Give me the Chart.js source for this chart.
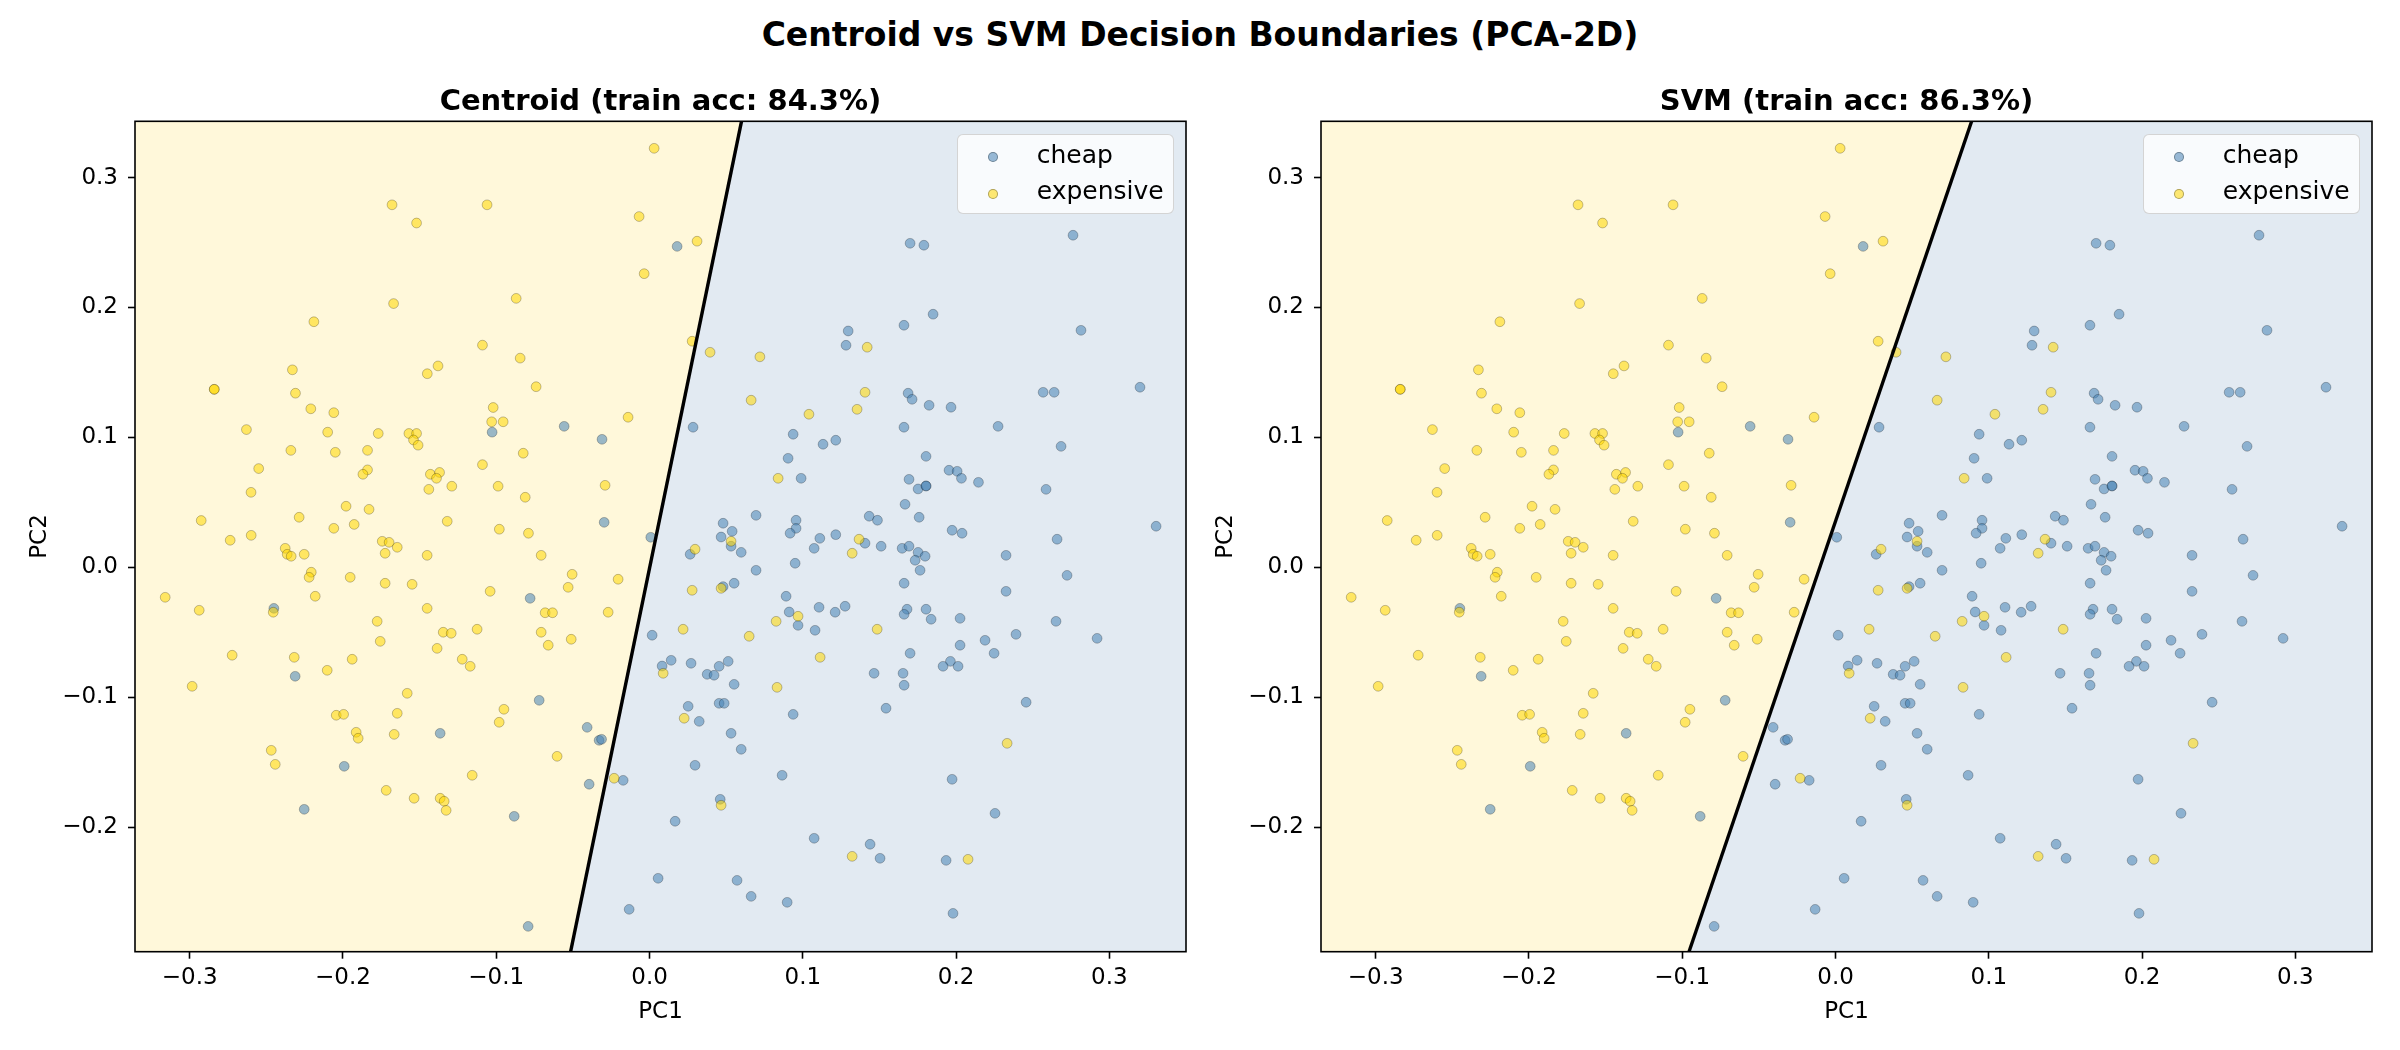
<!DOCTYPE html>
<html><head><meta charset="utf-8">
<script src="https://cdn.jsdelivr.net/npm/chart.js@4/dist/chart.umd.min.js"></script>
<style>
html,body{margin:0;padding:0;background:#fff;}
body{width:2400px;height:1050px;position:relative;overflow:hidden;font-family:'DejaVu Sans',sans-serif;color:#000;}
#sup{position:absolute;left:0;top:15px;width:2400px;text-align:center;font-weight:bold;font-size:33px;line-height:40px;}
canvas{position:absolute;top:0;}
.legend{position:absolute;top:134px;width:217px;height:80px;background:rgba(255,255,255,0.8);border:1.5px solid rgba(204,204,204,0.85);border-radius:6px;box-sizing:border-box;}
.legend .m{position:absolute;width:10px;height:10px;border-radius:50%;box-sizing:border-box;border:0.8px solid rgba(0,0,0,0.3);}
.legend .t{position:absolute;left:79px;font-size:25px;line-height:30px;white-space:nowrap;}
</style></head>
<body>
<div id="sup">Centroid vs SVM Decision Boundaries (PCA-2D)</div>
<canvas id="c1" width="1200" height="1050" style="left:0px"></canvas>
<canvas id="c2" width="1200" height="1050" style="left:1186px"></canvas>
<div class="legend" style="left:956.7px">
  <div class="m" style="left:30.5px;top:16.5px;background:rgba(70,130,180,0.55)"></div>
  <div class="t" style="top:5px">cheap</div>
  <div class="m" style="left:30.5px;top:53.5px;background:rgba(255,215,0,0.55)"></div>
  <div class="t" style="top:41px">expensive</div>
</div>
<div class="legend" style="left:2142.7px">
  <div class="m" style="left:30.5px;top:16.5px;background:rgba(70,130,180,0.55)"></div>
  <div class="t" style="top:5px">cheap</div>
  <div class="m" style="left:30.5px;top:53.5px;background:rgba(255,215,0,0.55)"></div>
  <div class="t" style="top:41px">expensive</div>
</div>
<script>
// ---- data (PC1, PC2) ----
const cheap = [
[0.018,0.247],[-0.1027,0.104],[-0.0557,0.1085],[-0.031,0.0985],[0.0284,0.1078],[0.0937,0.1024],[0.1132,0.0947],[0.1215,0.0978],
[0.0904,0.0839],[0.0989,0.0685],[0.0695,0.040],[0.048,0.0339],[0.0539,0.0277],[0.0956,0.0362],[0.0956,0.030],[0.0917,0.0262],[-0.0296,0.0346],
[0.2763,0.2556],[0.170,0.2494],[0.179,0.2479],[0.185,0.1948],[0.166,0.1863],[0.2815,0.1824],[0.1296,0.1819],[0.1282,0.1709],
[0.320,0.1386],[0.1687,0.134],[0.1713,0.1293],[0.2568,0.1347],[0.264,0.1347],[0.1824,0.1247],[0.1967,0.1232],[0.166,0.1078],
[0.2274,0.1085],[0.2685,0.0931],[0.1804,0.0854],[0.1954,0.0747],[0.2007,0.0739],[0.2035,0.0685],[0.2146,0.0654],[0.1693,0.0677],
[0.1752,0.0603],[0.1804,0.0626],[0.1804,0.0626],[0.2587,0.060],[0.1667,0.0485],[0.1433,0.0393],[0.1487,0.0362],[0.1759,0.0385],
[0.3305,0.0316],[0.1974,0.0285],[0.2039,0.0262],
[-0.2451,-0.0316],[-0.2312,-0.0839],[-0.1366,-0.1278],[-0.1992,-0.1532],[-0.2253,-0.1863],
[0.0008,0.0231],[0.0467,0.0233],[0.1111,0.0223],[0.1215,0.0251],[0.0265,0.010],[0.0532,0.0162],[0.0598,0.0115],[0.1074,0.0146],
[0.095,0.0031],[0.0695,-0.0023],[-0.0779,-0.0239],[0.048,-0.0149],[0.0552,-0.0123],[0.0891,-0.0223],[0.0911,-0.0344],[0.0969,-0.0447],
[0.1106,-0.0308],[0.1211,-0.0346],[0.108,-0.0485],[0.0017,-0.0523],[0.0082,-0.076],[0.0141,-0.0716],[0.0271,-0.0739],[0.0454,-0.0762],
[0.0513,-0.0724],[0.0376,-0.0824],[0.0421,-0.0831],[0.0552,-0.0901],[-0.072,-0.1024],[0.0252,-0.107],[0.0454,-0.1047],[0.0487,-0.1047],
[0.0937,-0.1132],[0.0324,-0.1186],[-0.0407,-0.1232],[-0.0329,-0.1332],[-0.0313,-0.1324],[0.0532,-0.1278],[0.0598,-0.1401],[0.0297,-0.1524],
[0.0865,-0.1601],[-0.0172,-0.164],[-0.0394,-0.167],[0.0461,-0.1786],[-0.0883,-0.1917],[0.0167,-0.1955],[0.1074,-0.2086],[0.0056,-0.2394],
[0.0571,-0.241],[0.0663,-0.2533],[0.0898,-0.2579],[-0.0133,-0.2633],[-0.0792,-0.2764],
[0.1406,0.0185],[0.1511,0.0162],[0.1648,0.0146],[0.1693,0.0162],[0.1752,0.0115],[0.1798,0.0085],[0.1733,0.0054],[0.1765,-0.0023],
[0.2659,0.0216],[0.2326,0.0092],[0.2724,-0.0062],[0.1661,-0.0123],[0.2326,-0.0185],[0.1276,-0.030],[0.168,-0.0323],[0.1661,-0.0362],
[0.1804,-0.0323],[0.1837,-0.040],[0.2026,-0.0393],[0.2652,-0.0416],[0.2391,-0.0516],[0.2189,-0.0562],[0.292,-0.0547],[0.2026,-0.060],
[0.2248,-0.0662],[0.17,-0.0662],[0.1963,-0.0724],[0.1915,-0.0762],[0.2013,-0.0762],[0.1465,-0.0816],[0.1654,-0.0816],[0.1661,-0.0908],
[0.1543,-0.1085],[0.2457,-0.1039],[0.1974,-0.1632],[0.2254,-0.1894],[0.1439,-0.2132],[0.1504,-0.224],[0.1935,-0.2256],[0.198,-0.2664]
];
const expensive = [
[-0.168,0.279],[-0.106,0.279],[-0.152,0.265],[-0.167,0.203],[-0.219,0.189],[-0.109,0.171],[-0.233,0.152],[-0.138,0.155],
[-0.145,0.149],[-0.284,0.137],[-0.284,0.137],[-0.231,0.134],[-0.221,0.122],[-0.206,0.119],[-0.263,0.106],[-0.210,0.104],
[-0.177,0.103],[-0.157,0.103],[-0.152,0.103],[-0.154,0.098],[-0.151,0.094],[-0.234,0.090],[-0.205,0.0885],[-0.184,0.090],
[-0.255,0.076],[-0.184,0.075],[-0.187,0.0716],[-0.143,0.0716],[-0.137,0.073],[-0.139,0.0685],[-0.109,0.079],[-0.260,0.0577],
[-0.144,0.060],[-0.129,0.0624],[-0.198,0.047],[-0.183,0.0446],[-0.2925,0.036],[-0.2286,0.0385],[-0.132,0.0354],[-0.206,0.030],[-0.1927,0.033],
[0.003,0.3225],[-0.0068,0.270],[0.031,0.251],[-0.0035,0.226],[-0.087,0.207],[-0.0844,0.161],[0.0278,0.174],[0.0395,0.1655],
[0.072,0.162],[-0.074,0.139],[-0.102,0.123],[-0.103,0.112],[-0.0955,0.112],[-0.014,0.1155],[0.0663,0.1286],[0.104,0.1178],
[-0.0824,0.0878],[0.0839,0.0685],[-0.0988,0.0624],[-0.029,0.0631],[-0.0811,0.0539],[-0.098,0.0293],[-0.079,0.0262],
[0.142,0.1694],[0.1406,0.1347],[0.1354,0.1216],
[-0.2736,0.0208],[-0.2599,0.0246],[-0.1744,0.020],[-0.1699,0.0192],[-0.1646,0.0154],[-0.1725,0.0108],[-0.1451,0.0092],[-0.2377,0.0146],
[-0.2364,0.010],[-0.2338,0.0085],[-0.2253,0.010],[-0.2207,-0.0038],[-0.2221,-0.0077],[-0.1953,-0.0077],[-0.1725,-0.0123],[-0.1549,-0.0131],
[-0.316,-0.0231],[-0.2938,-0.0331],[-0.2455,-0.0346],[-0.2181,-0.0223],[-0.1451,-0.0316],[-0.1777,-0.0416],[-0.1757,-0.057],[-0.1346,-0.050],
[-0.1294,-0.0508],[-0.1125,-0.0477],[-0.1386,-0.0624],[-0.2723,-0.0677],[-0.2318,-0.0693],[-0.194,-0.0708],[-0.2103,-0.0793],[-0.1222,-0.0708],
[-0.117,-0.0762],[-0.2984,-0.0916],[-0.1581,-0.097],[-0.2044,-0.1139],[-0.1996,-0.1132],[-0.1646,-0.1124],[-0.1914,-0.127],[-0.1901,-0.1316],
[-0.1666,-0.1286],[-0.2468,-0.1409],[-0.2442,-0.1517],[-0.1157,-0.1601],[-0.1718,-0.1717],[-0.1536,-0.1778],[-0.1366,-0.1778],[-0.134,-0.1801],[-0.1327,-0.1871],
[-0.0707,0.0092],[0.0297,0.0139],[0.0532,0.020],[-0.0505,-0.0054],[-0.0205,-0.0092],[-0.104,-0.0185],[-0.0531,-0.0154],[0.0278,-0.0177],
[0.0467,-0.0162],[-0.0681,-0.035],[-0.0633,-0.035],[-0.027,-0.0346],[0.0969,-0.0377],[0.0826,-0.0416],[-0.0707,-0.050],[-0.0511,-0.0554],
[-0.0661,-0.060],[0.0219,-0.0477],[0.065,-0.0531],[0.1113,-0.0693],[0.0089,-0.0816],[0.0832,-0.0924],[-0.095,-0.1093],[-0.0981,-0.1193],
[0.0226,-0.1162],[-0.0603,-0.1455],[-0.0231,-0.1624],[0.0467,-0.1832],
[0.1367,0.0216],[0.1322,0.0108],[0.1485,-0.0477],[0.2333,-0.1355],[0.1322,-0.2225],[0.2078,-0.2248]
];
// decision boundary end points [PC1, PC2]
const centroidBoundary = [[-0.0515,-0.2959],[0.060,0.3433]];
const svmBoundary = [[-0.0956,-0.2959],[0.0888,0.3433]];
const panelTitles = ['Centroid (train acc: 84.3%)','SVM (train acc: 86.3%)'];
const xTickValues = [-0.3,-0.2,-0.1,0.0,0.1,0.2,0.3];
const yTickValues = [-0.2,-0.1,0.0,0.1,0.2,0.3];
const xLimits = [-0.3357, 0.350];
const yLimits = [-0.2959, 0.3433];

// ---- styling ----
const FONT = "'DejaVu Sans', sans-serif";
const cheapBg = 'rgb(226,234,242)';
const expBg = 'rgb(255,248,218)';
const cheapColor = 'rgba(70,130,180,0.55)';
const expColor = 'rgba(255,215,0,0.55)';
const edgeColor = 'rgba(0,0,0,0.3)';

function fmt(v){ const a = Math.abs(v) < 1e-9 ? 0 : v; return (a < 0 ? '\u2212' : '') + Math.abs(a).toFixed(1); }
const toXY = arr => arr.map(p => ({x: p[0], y: p[1]}));

const bgPlugin = {
  id: 'bg',
  beforeDatasetsDraw(chart){
    const {ctx, chartArea: a} = chart;
    ctx.save(); ctx.fillStyle = cheapBg; ctx.fillRect(a.left, a.top, a.right - a.left, a.bottom - a.top); ctx.restore();
  },
  afterDraw(chart){
    const {ctx, chartArea: a} = chart;
    ctx.save(); ctx.strokeStyle = '#000'; ctx.lineWidth = 1.6;
    ctx.strokeRect(a.left, a.top, a.right - a.left, a.bottom - a.top); ctx.restore();
  }
};

function build(id, title, boundary){
  const region = [
    {x: xLimits[0], y: yLimits[0]},
    {x: boundary[0][0], y: boundary[0][1]},
    {x: boundary[1][0], y: boundary[1][1]},
    {x: xLimits[0], y: yLimits[1]}
  ];
  return new Chart(document.getElementById(id), {
    type: 'scatter',
    data: { datasets: [
      {label: 'expensive region', type: 'line', data: region, fill: 'shape', backgroundColor: expBg,
       borderColor: 'rgba(0,0,0,0)', borderWidth: 0, pointRadius: 0, tension: 0, order: 5},
      {label: 'cheap', data: toXY(cheap), backgroundColor: cheapColor, borderColor: edgeColor,
       borderWidth: 0.8, pointRadius: 4.9, order: 3},
      {label: 'expensive', data: toXY(expensive), backgroundColor: expColor, borderColor: edgeColor,
       borderWidth: 0.8, pointRadius: 4.9, order: 2},
      {label: 'boundary', type: 'line', data: toXY(boundary), borderColor: '#000', borderWidth: 3.4,
       pointRadius: 0, fill: false, tension: 0, order: 0}
    ]},
    options: {
      responsive: false, animation: false, devicePixelRatio: 1,
      layout: {padding: {left: 0, right: 14, top: 0, bottom: 0}},
      plugins: {
        legend: {display: false}, tooltip: {enabled: false},
        title: {display: true, fullSize: false, text: title, color: '#000',
          font: {family: FONT, size: 29, weight: 'bold'}, padding: {top: 85.3, bottom: 1.2}}
      },
      scales: {
        x: {type: 'linear', min: xLimits[0], max: xLimits[1],
          afterFit: s => { s.height = 98.3; },
          afterBuildTicks: s => { s.ticks = xTickValues.map(v => ({value: v})); },
          ticks: {callback: v => fmt(v), color: '#000', font: {family: FONT, size: 23}, padding: 6, maxRotation: 0, autoSkip: false},
          grid: {display: true, drawOnChartArea: false, drawTicks: true, tickLength: 7, tickWidth: 1.6, tickColor: '#000'},
          border: {display: false},
          title: {display: true, text: 'PC1', color: '#000', font: {family: FONT, size: 23}, padding: {top: 0, bottom: 24.6}}
        },
        y: {type: 'linear', min: yLimits[0], max: yLimits[1],
          afterFit: s => { s.width = 135; },
          afterBuildTicks: s => { s.ticks = yTickValues.map(v => ({value: v})); },
          ticks: {callback: v => fmt(v), color: '#000', font: {family: FONT, size: 23}, padding: 10, autoSkip: false},
          grid: {display: true, drawOnChartArea: false, drawTicks: true, tickLength: 7, tickWidth: 1.6, tickColor: '#000'},
          border: {display: false},
          title: {display: true, text: 'PC2', color: '#000', font: {family: FONT, size: 23}, padding: {top: 25.8, bottom: 0}}
        }
      }
    },
    plugins: [bgPlugin]
  });
}
Chart.defaults.font.family = FONT;
build('c1', panelTitles[0], centroidBoundary);
build('c2', panelTitles[1], svmBoundary);
</script>
</body></html>
